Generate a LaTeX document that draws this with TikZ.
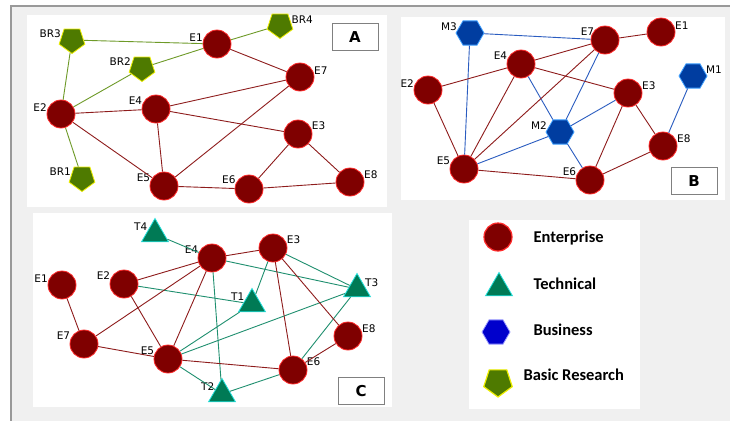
\documentclass[tikz,border=0pt]{standalone}
\usepackage{fontspec}
\setmainfont{DejaVu Sans}
\newfontfamily\legfont{Carlito}
\usetikzlibrary{shapes.geometric}
\definecolor{entfill}{HTML}{7F0000}
\definecolor{entline}{HTML}{FF2A2A}
\definecolor{brfill}{HTML}{4E7A00}
\definecolor{brline}{HTML}{EEEE00}
\definecolor{techfill}{HTML}{007A55}
\definecolor{techline}{HTML}{22E0DC}
\definecolor{busfill}{HTML}{003DA0}
\definecolor{busline}{HTML}{3FA0FF}
\definecolor{redlink}{HTML}{8E1C1C}
\definecolor{greenlink}{HTML}{6E9A28}
\definecolor{bluelink}{HTML}{2A5CC0}
\definecolor{teallink}{HTML}{1F8F6F}
\begin{document}
\begin{tikzpicture}[x=1pt,y=-1pt,font=\fontsize{10.5}{11}\selectfont,
  ent/.style={draw=entline,fill=entfill,line width=0.8pt,shape=circle,minimum size=28pt,inner sep=0pt},
  basic/.style={draw=brline,fill=brfill,line width=0.8pt,shape=regular polygon,regular polygon sides=5,shape border rotate=180,minimum size=27pt,inner sep=0pt},
  tech/.style={draw=techline,fill=techfill,line width=0.8pt,shape=regular polygon,regular polygon sides=3,minimum size=31pt,inner sep=0pt},
  bus/.style={draw=busline,fill=busfill,line width=0.8pt,shape=regular polygon,regular polygon sides=6,minimum size=28pt,inner sep=0pt},
  every label/.style={inner sep=0.3pt},
  label distance=-0.5pt,
  panel/.style={fill=white,draw=none},
  tagbox/.style={draw=gray,fill=white,line width=0.8pt,minimum width=46pt,minimum height=27pt,font=\fontsize{15}{15}\selectfont\bfseries},
  rl/.style={draw=redlink,line width=0.9pt},
  gl/.style={draw=greenlink,line width=0.9pt},
  bl/.style={draw=bluelink,line width=0.9pt},
  tl/.style={draw=teallink,line width=0.9pt},
  legtext/.style={anchor=west,font=\legfont\fontsize{16.5}{17}\selectfont\bfseries}]
\useasboundingbox (0,0) rectangle (730,421);
% backdrop
\fill[white] (0,0) rectangle (730,421);
\fill[black!6] (11,6) rectangle (730,421);
\draw[gray!80,line width=1.5pt] (730,6) -- (11,6) -- (11,421);
\path[panel] (27,15) rectangle (387,207);
\path[panel] (401,17) rectangle (725,200);
\path[panel] (33,213) rectangle (392,407);
\path[panel] (469,220) rectangle (640,409);
% A
\path (72,40) node(BR3_A) [basic,label=170:BR3] {};
\path (280,25) node(BR4_A) [basic,label=5:BR4] {};
\path (142,68) node(BR2_A) [basic,label=170:BR2] {};
\path (82,178) node(BR1_A) [basic,label=170:BR1] {};
\path (217,44) node(E1_A) [ent,label=170:E1] {};
\path (300,77) node(E7_A) [ent,label=10:E7] {};
\path (61,114) node(E2_A) [ent,label=170:E2] {};
\path (156,109) node(E4_A) [ent,label=165:E4] {};
\path (298,134) node(E3_A) [ent,label=15:E3] {};
\path (164,186) node(E5_A) [ent,label=165:E5] {};
\path (249,189) node(E6_A) [ent,label=160:E6] {};
\path (350,182) node(E8_A) [ent,label=10:E8] {};
\path (355,37) node(tag_A) [tagbox] {A};
\draw[gl] (BR3_A) -- (E1_A);
\draw[gl] (BR3_A) -- (E2_A);
\draw[gl] (BR4_A) -- (E1_A);
\draw[gl] (BR2_A) -- (E1_A);
\draw[gl] (BR2_A) -- (E2_A);
\draw[gl] (BR1_A) -- (E2_A);
\draw[rl] (E1_A) -- (E7_A);
\draw[rl] (E2_A) -- (E4_A) -- (E7_A) -- (E5_A) -- (E2_A);
\draw[rl] (E4_A) -- (E3_A) -- (E6_A) -- (E5_A) -- (E4_A);
\draw[rl] (E3_A) -- (E8_A) -- (E6_A);
% B
\path (470,33) node(M3_B) [bus,label=170:M3] {};
\path (693,76) node(M1_B) [bus,label=10:M1] {};
\path (560,132) node(M2_B) [bus,label=170:M2] {};
\path (605,40) node(E7_B) [ent,label={[xshift=3pt]165:E7}] {};
\path (661,32) node(E1_B) [ent,label=10:E1] {};
\path (521,64) node(E4_B) [ent,label=165:E4] {};
\path (428,90) node(E2_B) [ent,label=170:E2] {};
\path (628,93) node(E3_B) [ent,label=10:E3] {};
\path (663,146) node(E8_B) [ent,label=10:E8] {};
\path (464,169) node(E5_B) [ent,label=165:E5] {};
\path (590,180) node(E6_B) [ent,label=165:E6] {};
\path (694,181) node(tag_B) [tagbox] {B};
\draw[bl] (M3_B) -- (E7_B);
\draw[bl] (M3_B) -- (E5_B);
\draw[bl] (M1_B) -- (E8_B);
\draw[bl] (M2_B) -- (E4_B);
\draw[bl] (M2_B) -- (E7_B);
\draw[bl] (M2_B) -- (E3_B);
\draw[bl] (M2_B) -- (E5_B);
\draw[bl] (M2_B) -- (E6_B);
\draw[rl] (E7_B) -- (E1_B);
\draw[rl] (E7_B) -- (E4_B) -- (E2_B) -- (E5_B) -- (E7_B);
\draw[rl] (E4_B) -- (E3_B) -- (E6_B) -- (E5_B) -- (E4_B);
\draw[rl] (E3_B) -- (E8_B) -- (E6_B);
% C
\path (155,234) node(T4_C) [tech,label=160:T4] {};
\path (357,289) node(T3_C) [tech,label=15:T3] {};
\path (252,304) node(T1_C) [tech,label=160:T1] {};
\path (222,394) node(T2_C) [tech,label=160:T2] {};
\path (212,258) node(E4_C) [ent,label=165:E4] {};
\path (273,248) node(E3_C) [ent,label=15:E3] {};
\path (62,285) node(E1_C) [ent,label=170:E1] {};
\path (124,284) node(E2_C) [ent,label=165:E2] {};
\path (348,336) node(E8_C) [ent,label=10:E8] {};
\path (84,344) node(E7_C) [ent,label=165:E7] {};
\path (168,359) node(E5_C) [ent,label=165:E5] {};
\path (293,370) node(E6_C) [ent,label=15:E6] {};
\path (361,391) node(tag_C) [tagbox] {C};
\draw[tl] (T4_C) -- (E4_C) -- (T3_C) -- (E3_C) -- (T1_C) -- (E2_C);
\draw[tl] (E4_C) -- (T2_C) -- (E5_C) -- (T1_C);
\draw[tl] (E5_C) -- (T3_C) -- (E6_C) -- (T2_C);
\draw[rl] (E4_C) -- (E3_C) -- (E6_C) -- (E5_C) -- (E4_C);
\draw[rl] (E2_C) -- (E4_C) -- (E7_C) -- (E5_C) -- (E2_C);
\draw[rl] (E1_C) -- (E7_C);
\draw[rl] (E3_C) -- (E8_C) -- (E6_C);
% legend
\path (498,237) node(key_ent) [ent,line width=1.2pt] {};
\path (499,288) node(key_tech) [tech] {};
\path (496,332) node(key_bus) [bus,fill=blue!80!black,draw=blue!40] {};
\path (498,382) node(key_basic) [basic,minimum size=30pt,line width=1.2pt] {};
\path (530,238) node(txt_ent) [legtext] {Enterprise};
\path (530,284) node(txt_tech) [legtext] {Technical};
\path (530,330) node(txt_bus) [legtext] {Business};
\path (520,375) node(txt_basic) [legtext] {Basic Research};
\end{tikzpicture}
\end{document}
